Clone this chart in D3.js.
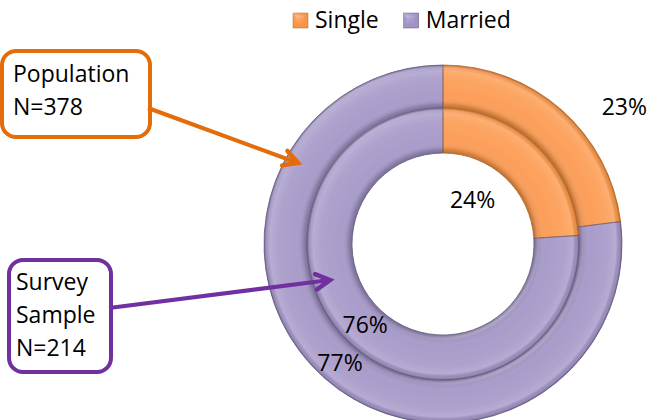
<!DOCTYPE html>
<html>
<head>
<meta charset="utf-8">
<script src="https://cdn.jsdelivr.net/npm/d3@7"></script>
<style>
  body { margin: 0; background: #fff; }
  svg { display: block; font-family: "Open Sans", sans-serif; }
</style>
</head>
<body>
<svg width="654" height="420"></svg>
<script>
  // doughnut data: outer ring = population, inner ring = survey sample
  let categories = ["Single", "Married"];
  let population = [23, 77];
  let sample = [24, 76];
  let colors = ["#F79646", "#A193C4"];
  let edgeColors = ["#B86420", "#65587F"];

  let width = 654,
      height = 420;

  let cx = 443, cy = 244;
  let outerR = 179, midR = 136, holeR = 91;

  let svg = d3.select("svg");

  // bevel look, roughly like the office "soft round" effect
  let defs = svg.append("defs");
  let f = defs.append("filter").attr("id", "bevel")
      .attr("x", "-10%").attr("y", "-10%").attr("width", "120%").attr("height", "120%");
  f.append("feGaussianBlur").attr("in", "SourceAlpha").attr("stdDeviation", 2.5).attr("result", "blur");
  f.append("feSpecularLighting").attr("in", "blur").attr("surfaceScale", 3)
      .attr("specularConstant", 0.35).attr("specularExponent", 18)
      .attr("lighting-color", "#ffffff").attr("result", "spec")
    .append("feDistantLight").attr("azimuth", 235).attr("elevation", 45);
  f.append("feComposite").attr("in", "spec").attr("in2", "SourceAlpha")
      .attr("operator", "in").attr("result", "specOut");
  f.append("feComposite").attr("in", "SourceGraphic").attr("in2", "specOut")
      .attr("operator", "arithmetic").attr("k1", 0).attr("k2", 1).attr("k3", 0.5).attr("k4", 0);

  // radial shading across each ring's width: dark rims, light band near the outer edge
  function shade(id, r0, r1) {
    let g = defs.append("radialGradient").attr("id", id)
        .attr("gradientUnits", "userSpaceOnUse")
        .attr("cx", 0).attr("cy", 0).attr("r", r1);
    let stops = [
      [0, "#000", 0.25], [r0 / r1, "#000", 0.25], [(r0 + 4) / r1, "#000", 0.1],
      [(r0 + 12) / r1, "#fff", 0.0], [(r1 - 14) / r1, "#fff", 0.06],
      [(r1 - 6) / r1, "#fff", 0.16], [(r1 - 2) / r1, "#000", 0.05], [1, "#000", 0.3]
    ];
    stops.forEach((s) => g.append("stop")
        .attr("offset", s[0]).attr("stop-color", s[1]).attr("stop-opacity", s[2]));
  }
  shade("shadeOuter", midR, outerR);
  shade("shadeInner", holeR, midR);

  let pie = d3.pie().sort(null);

  let chart = svg.append("g")
      .attr("transform", `translate(${cx}, ${cy})`);

  function ring(values, r0, r1, cls, shadeId) {
    let arc = d3.arc().innerRadius(r0).outerRadius(r1);
    let g = chart.append("g").attr("filter", "url(#bevel)");
    g.selectAll("path." + cls)
        .data(pie(values))
      .enter().append("path")
        .attr("class", cls)
        .attr("d", arc)
        .attr("fill", (d, i) => colors[i]);
    g.selectAll("path.shade-" + cls)
        .data(pie(values))
      .enter().append("path")
        .attr("class", "shade-" + cls)
        .attr("d", arc)
        .attr("fill", `url(#${shadeId})`)
        .attr("stroke", (d, i) => edgeColors[i])
        .attr("stroke-width", 0.8);
  }

  ring(population, midR, outerR, "outer", "shadeOuter");
  ring(sample, holeR, midR, "inner", "shadeInner");

  // percent labels, placed by angle (deg, clockwise from top) and radius
  let labelAt = {
    outer: [[53, 227], [221, 157]],
    inner: [[34, 53], [224, 112]]
  };

  function labels(values, cls) {
    chart.selectAll("text." + cls)
        .data(values)
      .enter().append("text")
        .attr("class", cls)
        .attr("x", (d, i) => labelAt[cls][i][1] * Math.sin(labelAt[cls][i][0] * Math.PI / 180))
        .attr("y", (d, i) => -labelAt[cls][i][1] * Math.cos(labelAt[cls][i][0] * Math.PI / 180))
        .attr("dy", ".35em")
        .attr("text-anchor", "middle")
        .attr("font-size", 23)
        .attr("fill", "#000")
        .text((d) => d + "%");
  }

  labels(population, "outer");
  labels(sample, "inner");

  // legend
  let legend = svg.append("g").attr("class", "legend");
  let lx = 293;
  categories.forEach((c, i) => {
    legend.append("rect")
        .attr("x", lx).attr("y", 13)
        .attr("width", 15).attr("height", 15)
        .attr("fill", colors[i])
        .attr("stroke", edgeColors[i])
        .attr("stroke-width", 0.5)
        .attr("filter", "url(#bevel)");
    let t = legend.append("text")
        .attr("x", lx + 22).attr("y", 28)
        .attr("font-size", 23)
        .text(c);
    lx += 22 + t.node().getComputedTextLength() + 25;
  });

  // callout boxes with arrows
  let callouts = [
    { color: "#E46C0A", box: [2, 51, 148, 86], lines: ["Population", "N=378"], tx: 13, ty: 82,
      from: [148, 108], to: [298, 163] },
    { color: "#7030A0", box: [9, 260, 102, 112], lines: ["Survey", "Sample", "N=214"], tx: 16, ty: 290,
      from: [109, 308], to: [330, 280] }
  ];

  callouts.forEach((c) => {
    let g = svg.append("g");
    g.append("rect")
        .attr("x", c.box[0]).attr("y", c.box[1])
        .attr("width", c.box[2]).attr("height", c.box[3])
        .attr("rx", 14)
        .attr("fill", "#fff")
        .attr("stroke", c.color)
        .attr("stroke-width", 4);
    c.lines.forEach((l, i) => {
      g.append("text")
          .attr("x", c.tx).attr("y", c.ty + i * 33)
          .attr("font-size", 23)
          .text(l);
    });
    g.append("line")
        .attr("x1", c.from[0]).attr("y1", c.from[1])
        .attr("x2", c.to[0]).attr("y2", c.to[1])
        .attr("stroke", c.color)
        .attr("stroke-width", 4);
    // open arrow head
    let a = Math.atan2(c.to[1] - c.from[1], c.to[0] - c.from[0]);
    let len = 16, spread = 0.5;
    let p1 = [c.to[0] - len * Math.cos(a - spread), c.to[1] - len * Math.sin(a - spread)];
    let p2 = [c.to[0] - len * Math.cos(a + spread), c.to[1] - len * Math.sin(a + spread)];
    g.append("path")
        .attr("d", `M${p1}L${c.to}L${p2}`)
        .attr("fill", "none")
        .attr("stroke", c.color)
        .attr("stroke-width", 4.5)
        .attr("stroke-linecap", "round")
        .attr("stroke-linejoin", "miter");
  });
</script>
</body>
</html>
